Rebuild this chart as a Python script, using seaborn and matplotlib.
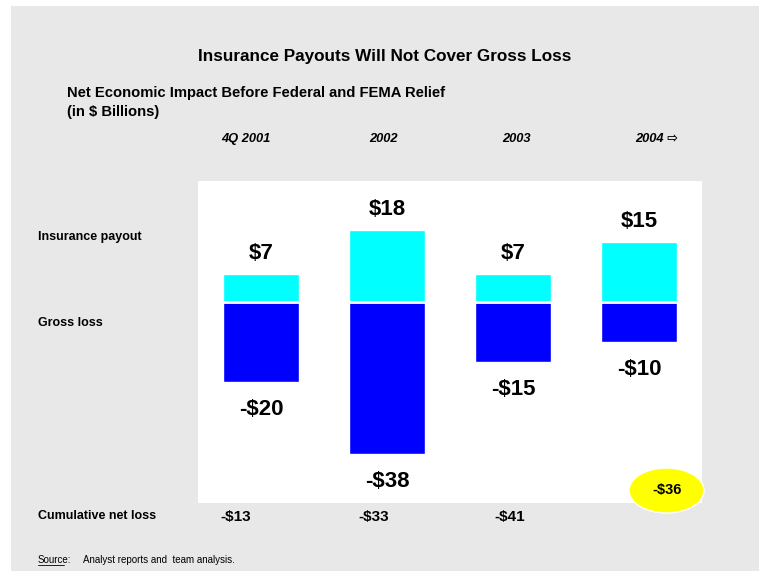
import matplotlib
matplotlib.use("Agg")
import matplotlib.pyplot as plt
from matplotlib.patches import Rectangle, Ellipse
import pandas as pd
import seaborn as sns

periods = ["4Q 2001", "2002", "2003", "2004 \u21e8"]
payout = [7, 18, 7, 15]
gross_loss = [-20, -38, -15, -10]
cumulative = ["-$13", "-$33", "-$41"]
cumulative_2004 = "-$36"

df = pd.DataFrame({"period": periods, "payout": payout, "loss": gross_loss})

sns.set_theme(style="white")
plt.rcParams["font.family"] = ["Liberation Sans", "DejaVu Sans"]
plt.rcParams["text.color"] = "black"

W, H = 759, 571
fig = plt.figure(figsize=(W / 100, H / 100), dpi=100)
fig.patch.set_facecolor("white")

def fx(px):
    return px / W

def fy(py):
    return 1 - py / H

# grey slide background
fig.patches.append(Rectangle((fx(11), -0.01), 1.01 - fx(11), fy(6) + 0.01,
                             transform=fig.transFigure, facecolor="#e8e8e8",
                             edgecolor="none", zorder=-5))

ax = fig.add_axes([fx(198), fy(503), fx(702) - fx(198), fy(181) - fy(503)])
ax.set_facecolor("white")

sns.barplot(data=df, x="period", y="payout", color="#00ffff", width=0.61,
            saturation=1, ax=ax)
sns.barplot(data=df, x="period", y="loss", color="#0000ff", width=0.61,
            saturation=1, ax=ax)
ax.axhline(0, color="white", lw=2)

ax.set_xlim(-0.5, 3.5)
ax.set_ylim(-50.25, 30.25)
for s in ax.spines.values():
    s.set_visible(False)
ax.set_xticks([])
ax.set_yticks([])
ax.set_xlabel("")
ax.set_ylabel("")

for i, v in enumerate(payout):
    ax.annotate(f"${v}", (i, v), xytext=(0, 15), textcoords="offset points",
                ha="center", va="center", fontsize=16, fontweight="bold")
for i, v in enumerate(gross_loss):
    ax.annotate(f"-${-v}", (i, v), xytext=(0, -20), textcoords="offset points",
                ha="center", va="center", fontsize=16, fontweight="bold")

# titles
fig.text(fx(385), fy(56), "Insurance Payouts Will Not Cover Gross Loss",
         ha="center", va="center", fontsize=12.3, fontweight="bold")
fig.text(fx(67), fy(93), "Net Economic Impact Before Federal and FEMA Relief",
         ha="left", va="center", fontsize=10.6, fontweight="bold")
fig.text(fx(67), fy(112), "(in $ Billions)",
         ha="left", va="center", fontsize=10.6, fontweight="bold")

# period headers
for x, p in zip([246, 383, 516, 657], periods):
    fig.text(fx(x), fy(139), p, ha="center", va="center", fontsize=9.3,
             fontweight="bold", fontstyle="italic")

# row labels
for y, lab in zip([237, 323, 516], ["Insurance payout", "Gross loss", "Cumulative net loss"]):
    fig.text(fx(38), fy(y), lab, ha="left", va="center", fontsize=9,
             fontweight="bold")

for x, c in zip([236, 374, 510], cumulative):
    fig.text(fx(x), fy(517), c, ha="center", va="center", fontsize=11,
             fontweight="bold")

ell = Ellipse((fx(666.5), fy(490.5)), fx(75), 45 / H, transform=fig.transFigure,
              facecolor="#ffff00", edgecolor="white", lw=1, zorder=5)
fig.patches.append(ell)
fig.text(fx(667), fy(490), cumulative_2004, ha="center", va="center",
         fontsize=10.5, fontweight="bold", zorder=6)

# source
fig.text(fx(38), fy(560), "Source:", ha="left", va="center", fontsize=7)
fig.add_artist(plt.Line2D([fx(38), fx(64)], [fy(565), fy(565)],
                          transform=fig.transFigure, color="black", lw=0.6))
fig.text(fx(83), fy(560), "Analyst reports and  team analysis.", ha="left",
         va="center", fontsize=7)

fig.savefig("out.png", dpi=100, facecolor=fig.get_facecolor())
